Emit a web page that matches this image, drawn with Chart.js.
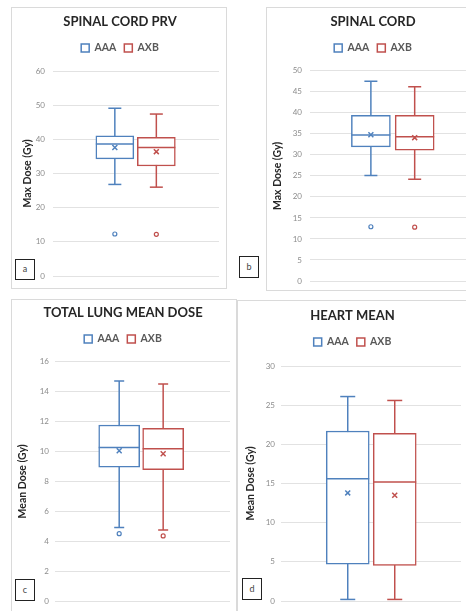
<!DOCTYPE html>
<html>
<head>
<meta charset="utf-8">
<script src="https://cdn.jsdelivr.net/npm/chart.js@4.4.0/dist/chart.umd.min.js"></script>
<style>
  html, body { margin: 0; padding: 0; background: #fff; }
  body { position: relative; width: 466px; height: 611px; overflow: hidden; font-family: Lato, "Liberation Sans", sans-serif; }
  .panel { position: absolute; border: 1px solid #dadada; background: #fff; }
  .panel canvas { display: block; }
  .tag { position: absolute; box-sizing: border-box; border: 1.5px solid #222; background: #fff;
         font-size: 9px; color: #444; text-align: center; }
</style>
</head>
<body>
<div class="panel" style="left:11px;top:7px;width:214px;height:280px"><canvas id="chartA" width="214" height="280"></canvas></div>
<div class="panel" style="left:266px;top:7px;width:217px;height:282px"><canvas id="chartB" width="217" height="282"></canvas></div>
<div class="panel" style="left:11px;top:299px;width:224px;height:320px"><canvas id="chartC" width="224" height="320"></canvas></div>
<div class="panel" style="left:237px;top:300px;width:233px;height:320px"><canvas id="chartD" width="233" height="320"></canvas></div>

<div class="tag" style="left:15px;top:259px;width:20px;height:21px;line-height:18px">a</div>
<div class="tag" style="left:239px;top:256px;width:20px;height:22px;line-height:19px">b</div>
<div class="tag" style="left:15px;top:579px;width:20px;height:22px;line-height:19px">c</div>
<div class="tag" style="left:242px;top:578px;width:20px;height:22px;line-height:19px">d</div>

<script>
// series
const seriesNames = ["AAA", "AXB"];
const seriesColors = ["#4f81bd", "#c0504d"];

// panels
const panelTitles = ["SPINAL CORD PRV", "SPINAL CORD", "TOTAL LUNG MEAN DOSE", "HEART MEAN"];
const axisTitles = ["Max Dose (Gy)", "Max Dose (Gy)", "Mean Dose (Gy)", "Mean Dose (Gy)"];
const axisMax = [60, 50, 16, 30];
const axisStep = [10, 5, 2, 5];

// [min, q1, median, q3, max]
const prvAAA = [26.8, 34.3, 38.6, 41.0, 49.1];
const prvAXB = [26.0, 32.2, 37.6, 40.6, 47.4];
const cordAAA = [25.1, 31.9, 34.7, 39.4, 47.5];
const cordAXB = [24.2, 31.1, 34.3, 39.4, 46.2];
const lungAAA = [4.92, 8.94, 10.27, 11.77, 14.71];
const lungAXB = [4.75, 8.78, 10.18, 11.54, 14.51];
const heartAAA = [0.2, 4.7, 15.6, 21.7, 26.1];
const heartAXB = [0.2, 4.55, 15.2, 21.4, 25.6];

// means [AAA, AXB]
const prvMean = [37.6, 36.4];
const cordMean = [34.8, 34.1];
const lungMean = [10.05, 9.85];
const heartMean = [13.8, 13.5];

// outliers [AAA, AXB]
const prvOutliers = [[12.3], [12.2]];
const cordOutliers = [[12.9], [12.8]];
const lungOutliers = [[4.5], [4.35]];
const heartOutliers = [[], []];

// layout of each panel (sizes in px, x range in series-index units)
const panelLook = [
  { id: "chartA", pad: { left: 9, right: 7, top: 0, bottom: 12 }, titleTop: 6.2, gap: 7.7, axisWidth: 32, axisTitlePad: 0.7, tickPad: 8, xMin: -1.49, xMax: 2.51, box: 38, cap: 6.5 },
  { id: "chartB", pad: { left: 3, right: 8, top: 0, bottom: 9 }, titleTop: 6.2, gap: 7.5, axisWidth: 40, axisTitlePad: 1.7, tickPad: 8, xMin: -1.39, xMax: 2.40, box: 39, cap: 6.5 },
  { id: "chartC", pad: { left: 4, right: 6, top: 0, bottom: 19 }, titleTop: 5.2, gap: 7.4, axisWidth: 39, axisTitlePad: 0.4, tickPad: 6, xMin: -1.46, xMax: 2.52, box: 41, cap: 5 },
  { id: "chartD", pad: { left: 6, right: 10, top: 0, bottom: 20 }, titleTop: 7.2, gap: 8.7, axisWidth: 37, axisTitlePad: 0.7, tickPad: 6, xMin: -1.42, xMax: 2.41, box: 43, cap: 7.5 }
];

const FONT = "Lato, 'Liberation Sans', sans-serif";

function boxDatasets(i, stats, mean, outliers, look) {
  const [lo, q1, med, q3, hi] = stats;
  const color = seriesColors[i];
  return [
    { // whisker + caps
      type: "line", label: seriesNames[i] + " whisker",
      data: [{ x: i, y: lo }, { x: i, y: hi }],
      borderColor: color, borderWidth: 1.5,
      pointStyle: "line", pointRadius: look.cap, pointHoverRadius: look.cap,
      pointBorderColor: color, pointBorderWidth: 1.5, order: 3
    },
    { // box
      type: "bar", label: seriesNames[i],
      data: [{ x: i, y: [q1, q3] }],
      backgroundColor: "#fff", borderColor: color, borderWidth: 1.5,
      borderSkipped: false, barThickness: look.box, grouped: false, order: 2
    },
    { // median line + mean cross
      type: "line", label: seriesNames[i] + " centre", showLine: false,
      data: [{ x: i, y: med }, { x: i, y: mean }],
      pointStyle: ["line", "crossRot"], pointRadius: [look.box / 2, 3.5],
      pointBorderColor: color, pointBorderWidth: 1.5, order: 1
    },
    { // outliers
      type: "line", label: seriesNames[i] + " outlier", showLine: false,
      data: outliers.map((v) => ({ x: i, y: v })),
      pointStyle: "circle", pointRadius: 2, pointBackgroundColor: "#fff",
      pointBorderColor: color, pointBorderWidth: 1.2, order: 1
    }
  ];
}

// extra room between legend and plot
const legendGap = {
  id: "legendGap",
  beforeInit(chart, args, opts) {
    const fit = chart.legend.fit;
    chart.legend.fit = function () {
      fit.call(this);
      this.height += opts.gap || 0;
    };
  }
};

function makeChart(p, stats, means, outliers) {
  const look = panelLook[p];
  const datasets = [];
  seriesNames.forEach((name, i) => {
    datasets.push(...boxDatasets(i, stats[i], means[i], outliers[i], look));
  });

  return new Chart(document.getElementById(look.id), {
    type: "bar",
    data: { datasets },
    options: {
      responsive: false,
      animation: false,
      events: [],
      layout: { padding: look.pad, autoPadding: false },
      plugins: {
        tooltip: { enabled: false },
        title: {
          display: true,
          text: panelTitles[p],
          color: "#262626",
          font: { family: FONT, size: 13, weight: "bold" },
          padding: { top: look.titleTop, bottom: 5 }
        },
        legend: {
          display: true,
          labels: {
            filter: (item) => seriesNames.includes(item.text),
            boxWidth: 8,
            boxHeight: 8,
            padding: 8,
            color: "#595959",
            font: { family: FONT, size: 10.5, weight: "bold" }
          }
        },
        legendGap: { gap: look.gap }
      },
      scales: {
        x: { type: "linear", display: false, offset: false, min: look.xMin, max: look.xMax },
        y: {
          min: 0,
          max: axisMax[p],
          stacked: false,
          afterFit: (s) => {
            s.width = look.axisWidth;
            s.paddingTop = 0;
            s.paddingBottom = 0;
          },
          border: { display: false },
          grid: { color: "#e2e2e2", lineWidth: 1, drawTicks: false },
          ticks: {
            stepSize: axisStep[p],
            padding: look.tickPad,
            color: "#8c8c8c",
            font: { family: FONT, size: 8 }
          },
          title: {
            display: true,
            text: axisTitles[p],
            color: "#262626",
            font: { family: FONT, size: 10.5, weight: "bold" },
            padding: { top: look.axisTitlePad, bottom: 0 }
          }
        }
      }
    },
    plugins: [legendGap]
  });
}

makeChart(0, [prvAAA, prvAXB], prvMean, prvOutliers);
makeChart(1, [cordAAA, cordAXB], cordMean, cordOutliers);
makeChart(2, [lungAAA, lungAXB], lungMean, lungOutliers);
makeChart(3, [heartAAA, heartAXB], heartMean, heartOutliers);
</script>
</body>
</html>
